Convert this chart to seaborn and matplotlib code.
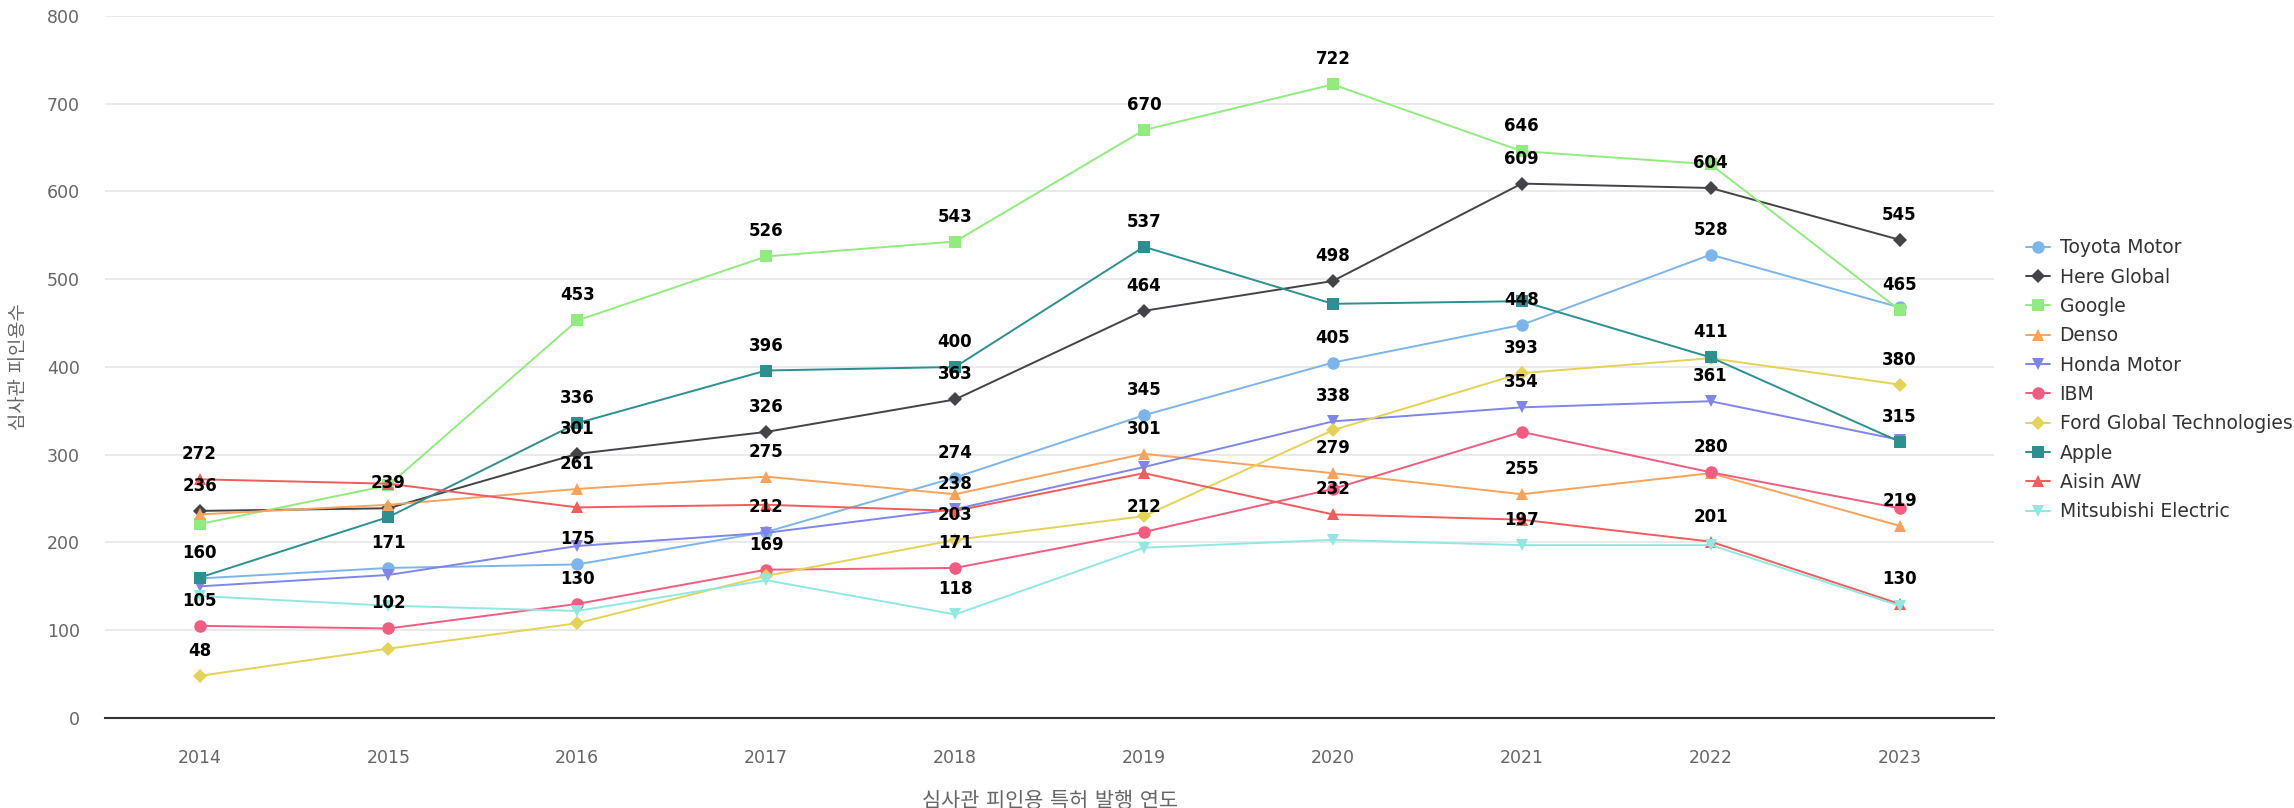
import pandas as pd
import seaborn as sns
import matplotlib.pyplot as plt

# data
years = [2014, 2015, 2016, 2017, 2018, 2019, 2020, 2021, 2022, 2023]

toyota_motor = [159, 171, 175, 212, 274, 345, 405, 448, 528, 468]
here_global = [236, 239, 301, 326, 363, 464, 498, 609, 604, 545]
google = [221, 265, 453, 526, 543, 670, 722, 646, 631, 465]
denso = [232, 243, 261, 275, 255, 301, 279, 255, 279, 219]
honda_motor = [150, 163, 196, 211, 238, 286, 338, 354, 361, 317]
ibm = [105, 102, 130, 169, 171, 212, 261, 326, 280, 239]
ford = [48, 79, 108, 162, 203, 230, 328, 393, 410, 380]
apple = [160, 229, 336, 396, 400, 537, 472, 475, 411, 315]
aisin_aw = [272, 267, 240, 243, 236, 279, 232, 226, 201, 130]
mitsubishi = [139, 128, 122, 157, 118, 194, 203, 197, 197, 128]

companies = ['Toyota Motor', 'Here Global', 'Google', 'Denso', 'Honda Motor',
             'IBM', 'Ford Global Technologies', 'Apple', 'Aisin AW', 'Mitsubishi Electric']
values = [toyota_motor, here_global, google, denso, honda_motor,
          ibm, ford, apple, aisin_aw, mitsubishi]

# years whose data label is visible in the reference (others are hidden by overlap)
label_years = [
    [2015, 2016, 2017, 2018, 2019, 2020, 2021, 2022],
    years,
    [2016, 2017, 2018, 2019, 2020, 2021, 2023],
    [2016, 2017, 2019, 2020, 2021, 2023],
    [2018, 2020, 2021, 2022],
    [2014, 2015, 2016, 2017, 2018, 2019, 2022],
    [2014, 2018, 2021, 2023],
    [2014, 2016, 2017, 2018, 2019, 2022, 2023],
    [2014, 2020, 2022, 2023],
    [2018, 2021],
]

colors = ['#7cb5ec', '#434348', '#90ed7d', '#f7a35c', '#8085e9',
          '#f15c80', '#e4d354', '#2b908f', '#f45b5b', '#91e8e1']
markers = ['o', 'D', 's', '^', 'v', 'o', 'D', 's', '^', 'v']
marker_sizes = [9, 7, 8.5, 9, 9, 9, 7, 8.5, 9, 9]

sns.set_theme(style='white')
plt.rcParams['font.family'] = ['DejaVu Sans', 'Noto Sans CJK KR']

fig = plt.figure(figsize=(22.94, 8.08), dpi=100)
ax = fig.add_axes([0.0458, 0.1114, 0.8234, 0.8688])

for i, name in enumerate(companies):
    df = pd.DataFrame({'year': years, 'value': values[i]})
    sns.lineplot(data=df, x='year', y='value', ax=ax, color=colors[i],
                 marker=markers[i], markersize=marker_sizes[i], markeredgewidth=0,
                 linewidth=1.4, label=name, zorder=3 + i)

# data labels
for i, name in enumerate(companies):
    for yr, v in zip(years, values[i]):
        if yr in label_years[i]:
            ax.annotate(str(v), (yr, v), xytext=(0, 18), textcoords='offset points',
                        ha='center', va='center', fontsize=12, fontweight='bold',
                        color='black', zorder=20)

ax.set_xlim(2013.5, 2023.5)
ax.set_ylim(0, 800)
ax.set_xticks(years)
ax.set_xticklabels([str(y) for y in years])
ax.set_yticks(range(0, 801, 100))
ax.grid(axis='y', color='#e6e6e6', linewidth=1.2)
ax.grid(axis='x', visible=False)
ax.set_axisbelow(True)
for side in ['top', 'right', 'left']:
    ax.spines[side].set_visible(False)
ax.spines['bottom'].set_color('#333333')
ax.spines['bottom'].set_linewidth(1.5)
ax.tick_params(axis='both', length=0, labelsize=12.5, labelcolor='#666666')
ax.tick_params(axis='x', pad=22)
ax.tick_params(axis='y', pad=18)

ax.set_xlabel('심사관 피인용 특허 발행 연도', fontsize=15, color='#666666')
ax.set_ylabel('심사관 피인용수', fontsize=13.5, color='#666666')
ax.xaxis.set_label_coords(0.5, -0.104)
ax.yaxis.set_label_coords(-0.041, 0.5)

handles, labels = ax.get_legend_handles_labels()
ax.legend_.remove()
fig.legend(handles, labels, loc='center left', bbox_to_anchor=(0.879, 0.53),
           frameon=False, fontsize=13.5, labelcolor='#333333', handlelength=1.3,
           handletextpad=0.5, labelspacing=0.55, borderpad=0)

fig.savefig('out.png', dpi=100)
